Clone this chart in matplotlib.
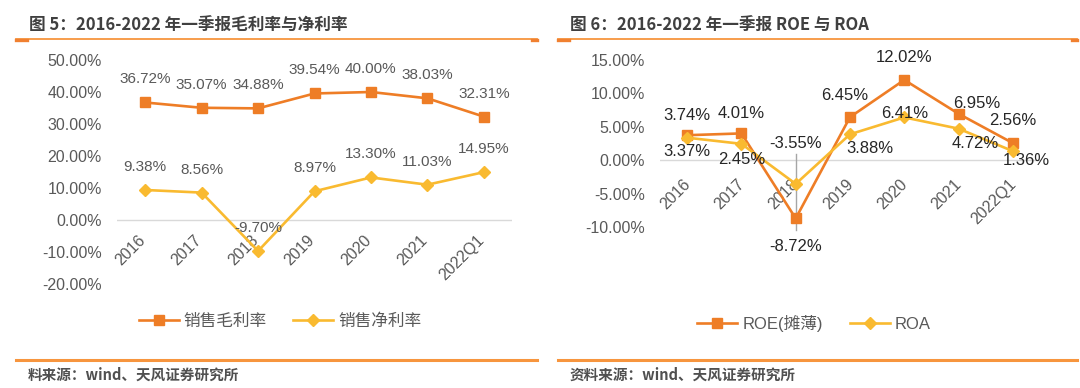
import matplotlib
matplotlib.use("Agg")
import matplotlib.pyplot as plt
from matplotlib.lines import Line2D
from matplotlib.transforms import ScaledTranslation

plt.rcParams['font.family'] = ['Liberation Sans', 'Noto Sans CJK SC', 'DejaVu Sans']

# ---------------- data ----------------
categories = ['2016', '2017', '2018', '2019', '2020', '2021', '2022Q1']
gross_margin = [36.72, 35.07, 34.88, 39.54, 40.00, 38.03, 32.31]
net_margin = [9.38, 8.56, -9.70, 8.97, 13.30, 11.03, 14.95]
roe = [3.74, 4.01, -8.72, 6.45, 12.02, 6.95, 2.56]
roa = [3.37, 2.45, -3.55, 3.88, 6.41, 4.72, 1.36]

left_yticks = [-20, -10, 0, 10, 20, 30, 40, 50]
right_yticks = [-10, -5, 0, 5, 10, 15]

title_left = '图 5：2016-2022 年一季报毛利率与净利率'
title_right = '图 6：2016-2022 年一季报 ROE 与 ROA'
source_left = '料来源：wind、天风证券研究所'
source_right = '资料来源：wind、天风证券研究所'
legend_left = ['销售毛利率', '销售净利率']
legend_right = ['ROE(摊薄)', 'ROA']

ORANGE = '#EE7D26'
YELLOW = '#F9BA30'
GREY = '#595959'
ZERO = '#D9D9D9'
RULE = '#F7953E'

W, H = 1080, 388
fig = plt.figure(figsize=(W / 100, H / 100), dpi=100)


def fx(px):
    return px / W


def fy(py):
    return 1 - py / H


def style_axes(ax, yticks, ylim, xpad, xshift):
    x = list(range(len(categories)))
    ax.set_xlim(-0.5, len(categories) - 0.5)
    ax.set_ylim(*ylim)
    for s in ax.spines.values():
        s.set_visible(False)
    ax.spines['bottom'].set_position(('data', 0))
    ax.axhline(0, color=ZERO, lw=1.0, zorder=1)
    ax.set_yticks(yticks)
    ax.set_yticklabels([f'{v:.2f}%' for v in yticks], color=GREY, fontsize=11.5)
    ax.set_xticks(x)
    ax.set_xticklabels(categories, rotation=45, ha='right', va='top',
                       color=GREY, fontsize=11.5)
    ax.tick_params(axis='both', length=0)
    ax.tick_params(axis='y', pad=11)
    ax.tick_params(axis='x', pad=xpad)
    if xshift:
        off = ScaledTranslation(xshift / 100, 0, fig.dpi_scale_trans)
        for lab in ax.get_xticklabels():
            lab.set_transform(lab.get_transform() + off)
    ax.patch.set_alpha(0)
    return x


# ---------------- left chart ----------------
axL = fig.add_axes([fx(117), fy(284), fx(512) - fx(117), fy(60) - fy(284)])
xL = style_axes(axL, left_yticks, (-20, 50), 9, 3)
lg, = axL.plot(xL, gross_margin, color=ORANGE, lw=1.9, marker='s', ms=7,
               zorder=3, clip_on=False)
ln, = axL.plot(xL, net_margin, color=YELLOW, lw=1.9, marker='D', ms=6.5,
               zorder=4, clip_on=False)
for xi, v in zip(xL, gross_margin):
    axL.annotate(f'{v:.2f}%', (xi, v), xytext=(0, 23), textcoords='offset pixels',
                 ha='center', va='center', fontsize=11, color=GREY, zorder=5)
for xi, v in zip(xL, net_margin):
    axL.annotate(f'{v:.2f}%', (xi, v), xytext=(0, 23), textcoords='offset pixels',
                 ha='center', va='center', fontsize=11, color=GREY, zorder=5)

fig.legend([lg, ln], legend_left, loc='center', bbox_to_anchor=(fx(280), fy(321)),
           ncol=2, frameon=False, fontsize=12, labelcolor=GREY,
           handlelength=2.4, columnspacing=1.6, handletextpad=0.3)

# ---------------- right chart ----------------
axR = fig.add_axes([fx(660), fy(227), fx(1040) - fx(660), fy(60) - fy(227)])
xR = style_axes(axR, right_yticks, (-10, 15), 12, 6)
axR.plot([2, 2], [1.0, -10.45], color='#A6A6A6', lw=1.0, zorder=2, clip_on=False)
lr, = axR.plot(xR, roe, color=ORANGE, lw=1.9, marker='s', ms=7, zorder=3,
               clip_on=False)
la, = axR.plot(xR, roa, color=YELLOW, lw=1.9, marker='D', ms=6.5, zorder=4,
               clip_on=False)
roe_off = [(0, 20), (0, 20), (0, -28), (-5, 22), (0, 22), (18, 10), (0, 23)]
roa_off = [(0, -14), (0, -16), (0, 40), (20, -14), (0, 4), (17, -15), (13, -9)]
LABEL_DARK = '#262626'
for xi, v, o in zip(xR, roe, roe_off):
    axR.annotate(f'{v:.2f}%', (xi, v), xytext=o, textcoords='offset pixels',
                 ha='center', va='center', fontsize=12, color=LABEL_DARK, zorder=5)
for xi, v, o in zip(xR, roa, roa_off):
    axR.annotate(f'{v:.2f}%', (xi, v), xytext=o, textcoords='offset pixels',
                 ha='center', va='center', fontsize=12, color=LABEL_DARK, zorder=5)

fig.legend([lr, la], legend_right, loc='center', bbox_to_anchor=(fx(814), fy(323)),
           ncol=2, frameon=False, fontsize=12, labelcolor=GREY,
           handlelength=2.4, columnspacing=1.6, handletextpad=0.3)

# ---------------- titles, rules, sources ----------------
cjk = ['Noto Sans CJK SC', 'DejaVu Sans']
fig.text(fx(29), fy(26), title_left, ha='left', va='center', fontsize=12,
         fontweight='bold', color='#404040', family=cjk)
fig.text(fx(570), fy(26), title_right, ha='left', va='center', fontsize=12,
         fontweight='bold', color='#404040', family=cjk)

for x0, x1 in [(16, 537), (558, 1077)]:
    fig.add_artist(Line2D([fx(x0), fx(x1)], [fy(39), fy(39)], color=RULE, lw=1.3,
                          transform=fig.transFigure))
    fig.add_artist(Line2D([fx(x0), fx(x0 + 11)], [fy(40), fy(40)], color='#F08030',
                          lw=2.4, transform=fig.transFigure))
    fig.add_artist(Line2D([fx(x1 - 5), fx(x1)], [fy(40), fy(40)], color='#F08030',
                          lw=2.4, transform=fig.transFigure))
    fig.add_artist(Line2D([fx(x0), fx(x1)], [fy(360), fy(360)], color=RULE, lw=2.2,
                          transform=fig.transFigure))

fig.text(fx(28), fy(375), source_left, ha='left', va='center', fontsize=10.5,
         fontweight='bold', color='#505050', family=cjk)
fig.text(fx(570), fy(375), source_right, ha='left', va='center', fontsize=10.5,
         fontweight='bold', color='#505050', family=cjk)

fig.savefig('out.png', dpi=100)
